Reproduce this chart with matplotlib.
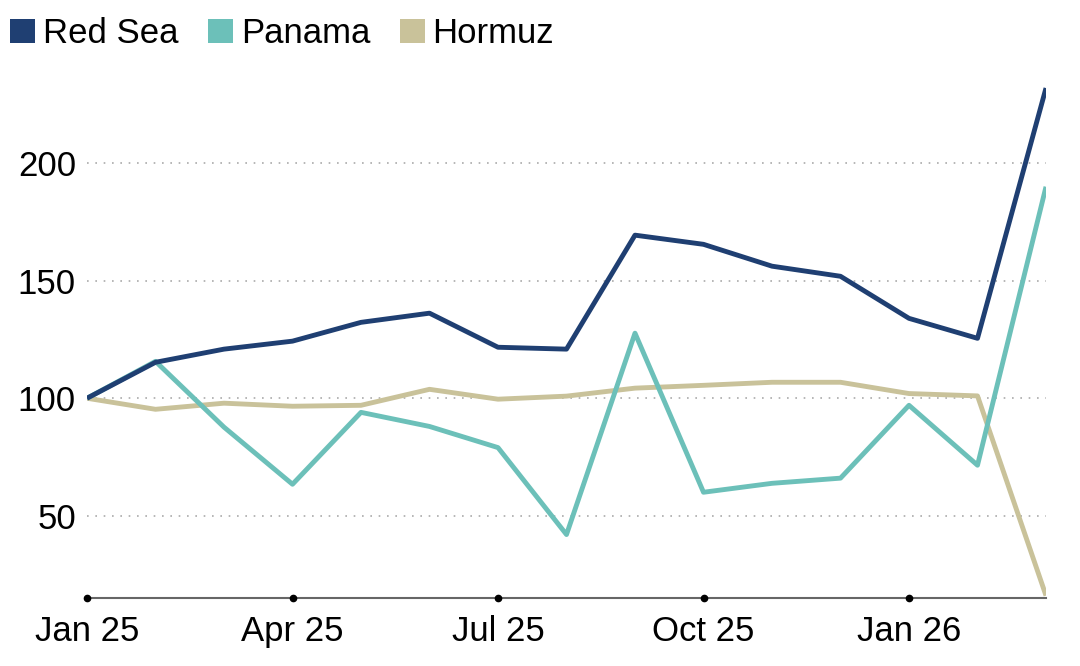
import matplotlib
matplotlib.use("Agg")
import matplotlib.pyplot as plt
from matplotlib.patches import Patch

months = ["Jan 25", "Feb 25", "Mar 25", "Apr 25", "May 25", "Jun 25", "Jul 25",
          "Aug 25", "Sep 25", "Oct 25", "Nov 25", "Dec 25", "Jan 26", "Feb 26", "Mar 26"]
red_sea = [100, 115.3, 120.9, 124.3, 132.3, 136.2, 121.7, 120.9, 169.4, 165.5,
           156.2, 151.9, 134.0, 125.5, 232]
panama = [100, 115.7, 87.7, 63.4, 94.0, 88.0, 79.0, 42.0, 127.7, 60.0,
          63.8, 66.0, 97.0, 71.5, 190]
hormuz = [100, 95.3, 97.9, 96.6, 97.0, 103.8, 99.6, 100.9, 104.3, 105.5,
          106.8, 106.8, 102.0, 101.0, 16]
tick_idx = [0, 3, 6, 9, 12]
tick_labels = ["Jan 25", "Apr 25", "Jul 25", "Oct 25", "Jan 26"]
y_ticks = [50, 100, 150, 200]

c_red = "#1f3f72"
c_pan = "#6cc0b9"
c_hor = "#c9c29a"

plt.rcParams['font.family'] = ['Liberation Sans', 'DejaVu Sans']

fig = plt.figure(figsize=(10.8, 6.66), dpi=100)
ax = fig.add_axes([87/1080, 1-598/666, (1046-87)/1080, (598-81)/666])

x = list(range(len(months)))
ymin, ymax = 15, 235
ax.set_xlim(0, 14)
ax.set_ylim(ymin, ymax)

for yv in y_ticks:
    ax.plot([0, 14], [yv, yv], linestyle=(0, (1, 4)), color="#aaaaaa", lw=1.2,
            zorder=1, clip_on=False)

ax.plot(x, hormuz, color=c_hor, lw=3.5, zorder=3, solid_capstyle='butt')
ax.plot(x, panama, color=c_pan, lw=3.5, zorder=4, solid_capstyle='butt')
ax.plot(x, red_sea, color=c_red, lw=3.5, zorder=5, solid_capstyle='butt')

for s in ["top", "right", "left"]:
    ax.spines[s].set_visible(False)
ax.spines["bottom"].set_color("#666666")
ax.spines["bottom"].set_linewidth(1.5)
ax.spines["bottom"].set_zorder(2)

ax.plot(tick_idx, [ymin]*len(tick_idx), 'o', color="black", ms=4.5, clip_on=False, zorder=6)

ax.set_xticks(tick_idx)
ax.set_xticklabels(tick_labels, fontsize=25)
ax.set_yticks(y_ticks)
ax.set_yticklabels([str(v) for v in y_ticks], fontsize=25)
ax.tick_params(axis='x', length=0, pad=12)
ax.tick_params(axis='y', length=0, pad=8)

handles = [Patch(facecolor=c_red, edgecolor='none', label="Red Sea"),
           Patch(facecolor=c_pan, edgecolor='none', label="Panama"),
           Patch(facecolor=c_hor, edgecolor='none', label="Hormuz")]
fig.legend(handles=handles, loc='upper left', bbox_to_anchor=(-0.008, 1.003),
           ncol=3, frameon=False, fontsize=25, handlelength=0.72, handleheight=0.72,
           handletextpad=0.22, columnspacing=0.85, borderaxespad=0.15)

fig.savefig("out.png", dpi=100, facecolor="white")
